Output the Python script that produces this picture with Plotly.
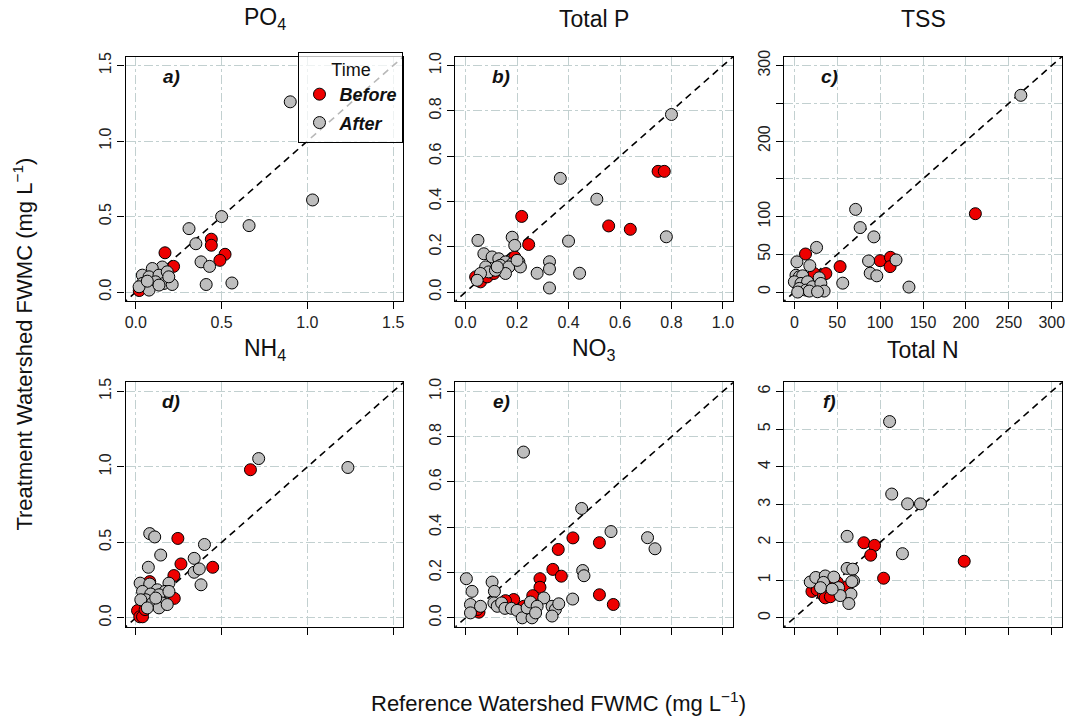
import plotly.graph_objects as go

# ---------------- data ----------------
po4_before_x = [0.17, 0.22, 0.44, 0.44, 0.52, 0.49, 0.02, 0.135]
po4_before_y = [0.26, 0.17, 0.35, 0.31, 0.25, 0.21, 0.01, 0.11]
po4_after_x = [0.90, 1.03, 0.66, 0.50, 0.31, 0.35, 0.38, 0.43, 0.41, 0.56, 0.154, 0.096, 0.038,
               0.077, 0.135, 0.183, 0.115, 0.058, 0.164, 0.212, 0.038, 0.077, 0.135, 0.019, 0.192, 0.067]
po4_after_y = [1.26, 0.61, 0.44, 0.50, 0.42, 0.32, 0.20, 0.17, 0.05, 0.06, 0.166, 0.156, 0.112,
               0.101, 0.112, 0.134, 0.068, 0.046, 0.057, 0.050, 0.057, 0.013, 0.046, 0.035, 0.101, 0.072]

tp_before_x = [0.218, 0.245, 0.556, 0.64, 0.748, 0.772, 0.191, 0.039, 0.058, 0.084, 0.11]
tp_before_y = [0.334, 0.21, 0.292, 0.277, 0.533, 0.533, 0.155, 0.067, 0.045, 0.067, 0.082]
tp_after_x = [0.80, 0.368, 0.51, 0.40, 0.78, 0.443, 0.326, 0.326, 0.326, 0.278, 0.048, 0.181, 0.191,
              0.071, 0.103, 0.129, 0.155, 0.181, 0.135, 0.168, 0.207, 0.213, 0.2, 0.078, 0.09, 0.058,
              0.155, 0.116, 0.045, 0.123]
tp_after_y = [0.784, 0.502, 0.41, 0.225, 0.244, 0.083, 0.134, 0.102, 0.018, 0.083, 0.228, 0.242, 0.206,
              0.169, 0.155, 0.147, 0.133, 0.125, 0.118, 0.111, 0.133, 0.111, 0.14, 0.111, 0.089, 0.082,
              0.082, 0.096, 0.052, 0.111]

tss_before_x = [13, 23, 36.7, 53.3, 100, 112, 111.6, 211]
tss_before_y = [50.4, 24.5, 24.5, 33.7, 41.6, 46, 33.7, 103.8]
tss_after_x = [264, 71.4, 76.7, 92.7, 25.9, 86.5, 118.5, 88.4, 96.1, 56.4, 133.6, 3, 18, 1.9, 5.8, 9.7,
               0, 7.7, 15.4, 5.8, 13.5, 21.2, 28.9, 30.9, 34.7, 17.4, 3.9, 27]
tss_after_y = [260.6, 109.5, 85.4, 73.1, 59.1, 41.2, 42.5, 25, 21.5, 11.8, 6.6, 40, 35, 22.3, 20.2, 21.5,
               13.6, 11.4, 13.6, 4.8, 2.6, 7, 18.9, 11.4, 1.3, 1.3, 0, 0.4]

nh4_before_x = [0.668, 0.245, 0.263, 0.448, 0.222, 0.224, 0.01, 0.023, 0.039, 0.081, 0.054]
nh4_before_y = [0.981, 0.526, 0.357, 0.335, 0.28, 0.129, 0.048, 0.007, 0.007, 0.24, 0.055]
nh4_after_x = [0.716, 1.236, 0.081, 0.11, 0.145, 0.073, 0.40, 0.34, 0.34, 0.37, 0.38, 0.193, 0.025, 0.081,
               0.125, 0.17, 0.039, 0.087, 0.135, 0.058, 0.097, 0.029, 0.154, 0.193, 0.135, 0.183, 0.116, 0.067]
nh4_after_y = [1.055, 0.996, 0.558, 0.536, 0.416, 0.335, 0.486, 0.394, 0.302, 0.324, 0.219, 0.23, 0.23, 0.224,
               0.186, 0.175, 0.175, 0.158, 0.153, 0.12, 0.098, 0.12, 0.098, 0.175, 0.066, 0.088, 0.131, 0.066]

no3_before_x = [0.417, 0.52, 0.36, 0.339, 0.372, 0.289, 0.289, 0.52, 0.574, 0.261, 0.187, 0.155, 0.226,
                0.052, 0.045, 0.34]
no3_before_y = [0.353, 0.332, 0.302, 0.214, 0.184, 0.173, 0.135, 0.102, 0.059, 0.098, 0.081, 0.076, 0.051,
                0.025, 0.037, 0.045]
no3_after_x = [0.225, 0.451, 0.565, 0.707, 0.736, 0.455, 0.46, 0.416, 0.304, 0.003, 0.025, 0.103, 0.112,
               0.019, 0.019, 0.058, 0.11, 0.123, 0.14, 0.153, 0.178, 0.2, 0.22, 0.258, 0.239, 0.252, 0.278,
               0.272, 0.336, 0.349, 0.362, 0.336]
no3_after_y = [0.732, 0.483, 0.381, 0.354, 0.305, 0.209, 0.186, 0.083, 0.088, 0.173, 0.117, 0.158, 0.117,
               0.059, 0.022, 0.051, 0.066, 0.051, 0.066, 0.042, 0.042, 0.033, 0.0, 0.0, 0.044, 0.07, 0.051,
               0.022, 0.051, 0.037, 0.062, 0.008]

tn_before_x = [3.96, 2.08, 1.62, 1.87, 1.78, 1.21, 0.88, 1.0, 0.41, 0.53, 0.68, 0.72, 0.84]
tn_before_y = [1.5, 1.05, 1.99, 1.92, 1.66, 0.81, 0.98, 0.94, 0.70, 0.74, 0.59, 0.53, 0.56]
tn_after_x = [2.22, 2.27, 2.64, 2.94, 2.52, 1.23, 1.23, 1.36, 1.38, 1.32, 1.27, 0.37, 0.50, 0.72, 0.92,
              0.68, 1.03, 1.34, 1.07, 0.61, 0.88]
tn_after_y = [5.2, 3.28, 3.02, 3.02, 1.7, 2.16, 1.31, 1.29, 0.98, 0.63, 0.38, 0.95, 1.07, 1.11, 1.08,
              0.94, 0.80, 0.96, 0.59, 0.80, 0.76]

panel_titles = ["PO<sub>4</sub>", "Total P", "TSS", "NH<sub>4</sub>", "NO<sub>3</sub>", "Total N"]
panel_letters = ["a)", "b)", "c)", "d)", "e)", "f)"]
axis_max = [1.5, 1.0, 300, 1.5, 1.0, 6]
x_tick_vals = [[0, 0.5, 1.0, 1.5],
               [0, 0.2, 0.4, 0.6, 0.8, 1.0],
               [0, 50, 100, 150, 200, 250, 300],
               [0, 0.5, 1.0, 1.5],
               [0, 0.2, 0.4, 0.6, 0.8, 1.0],
               [0, 1, 2, 3, 4, 5, 6]]
x_tick_text = [["0.0", "0.5", "1.0", "1.5"],
               ["0.0", "0.2", "0.4", "0.6", "0.8", "1.0"],
               ["0", "50", "100", "150", "200", "250", "300"],
               ["0.0", "0.5", "1.0", "1.5"],
               ["0.0", "0.2", "0.4", "0.6", "0.8", "1.0"],
               ["0", "1", "2", "3", "4", "5", "6"]]
# labelled y ticks; unlabelled ticks (TSS 150, 250) go in y_minor_vals
y_tick_vals = [[0, 0.5, 1.0, 1.5],
               [0, 0.2, 0.4, 0.6, 0.8, 1.0],
               [0, 50, 100, 200, 300],
               [0, 0.5, 1.0, 1.5],
               [0, 0.2, 0.4, 0.6, 0.8, 1.0],
               [0, 1, 2, 3, 4, 5, 6]]
y_tick_text = [["0.0", "0.5", "1.0", "1.5"],
               ["0.0", "0.2", "0.4", "0.6", "0.8", "1.0"],
               ["0", "50", "100", "200", "300"],
               ["0.0", "0.5", "1.0", "1.5"],
               ["0.0", "0.2", "0.4", "0.6", "0.8", "1.0"],
               ["0", "1", "2", "3", "4", "5", "6"]]
y_minor_vals = [[], [], [150, 250], [], [], []]

panels = [
    (po4_before_x, po4_before_y, po4_after_x, po4_after_y),
    (tp_before_x, tp_before_y, tp_after_x, tp_after_y),
    (tss_before_x, tss_before_y, tss_after_x, tss_after_y),
    (nh4_before_x, nh4_before_y, nh4_after_x, nh4_after_y),
    (no3_before_x, no3_before_y, no3_after_x, no3_after_y),
    (tn_before_x, tn_before_y, tn_after_x, tn_after_y),
]

# ---------------- styling ----------------
W, H = 1069, 720
FONT = "Liberation Sans, Arial, sans-serif"
RED = "#ee0000"
GRAY = "#bebebe"
GRID = "#c2d0d0"
col_px = [(125, 404), (456, 735), (786, 1065)]
row_px = [(50, 297), (379, 626)]
title_px = [12, 346]

fig = go.Figure()
layout = dict(
    width=W, height=H,
    margin=dict(l=0, r=0, t=0, b=0),
    paper_bgcolor="white", plot_bgcolor="white",
    font=dict(family=FONT, color="#222"),
    showlegend=True,
)
annotations = []

for i, (bx, by, ax_, ay) in enumerate(panels):
    r, c = divmod(i, 3)
    n = "" if i == 0 else str(i + 1)
    xa, ya = "x" + n, "y" + n
    M = axis_max[i]
    rng = [-0.04 * M, 1.04 * M]
    # 1:1 line
    fig.add_trace(go.Scatter(x=[-M, 2 * M], y=[-M, 2 * M], mode="lines",
                             line=dict(color="black", width=1.6, dash="7px,5px"),
                             showlegend=False, hoverinfo="skip", xaxis=xa, yaxis=ya))
    fig.add_trace(go.Scatter(x=bx, y=by, mode="markers", name="<b><i>Before</i></b>",
                             marker=dict(color=RED, size=12, line=dict(color="black", width=1)),
                             showlegend=(i == 0), legendgroup="b", xaxis=xa, yaxis=ya))
    fig.add_trace(go.Scatter(x=ax_, y=ay, mode="markers", name="<b><i>After</i></b>",
                             marker=dict(color=GRAY, size=12, line=dict(color="black", width=1)),
                             showlegend=(i == 0), legendgroup="a", xaxis=xa, yaxis=ya))
    x0, x1 = col_px[c]
    y0, y1 = row_px[r]
    common = dict(range=rng, showline=True, linecolor="black", linewidth=1.3, mirror=True,
                  ticks="outside", ticklen=7, tickcolor="black", tickwidth=1,
                  showgrid=True, gridcolor=GRID, griddash="dashdot", gridwidth=1,
                  zeroline=False,
                  tickfont=dict(size=16, color="#222", family=FONT))
    layout["xaxis" + n] = dict(common, domain=[x0 / W, x1 / W], anchor=ya,
                               tickvals=x_tick_vals[i], ticktext=x_tick_text[i],
                               showticklabels=(r == 0))
    yax = dict(common, domain=[1 - y1 / H, 1 - y0 / H], anchor=xa,
               tickvals=y_tick_vals[i], ticktext=y_tick_text[i], tickangle=-90)
    if y_minor_vals[i]:
        yax["minor"] = dict(tickvals=y_minor_vals[i], ticks="outside", ticklen=7, tickcolor="black",
                            showgrid=True, gridcolor=GRID, griddash="dashdot", gridwidth=1)
    layout["yaxis" + n] = yax
    # panel title
    annotations.append(dict(text=panel_titles[i], x=(x0 + x1) / 2 / W, y=1 - title_px[r] / H,
                            xref="paper", yref="paper", showarrow=False,
                            font=dict(size=23, color="#111", family=FONT),
                            xanchor="center", yanchor="middle"))
    # panel letter
    annotations.append(dict(text="<b><i>" + panel_letters[i] + "</i></b>", x=0.165, y=0.92,
                            xref=xa + " domain", yref=ya + " domain", showarrow=False,
                            font=dict(size=19, color="#111", family=FONT),
                            xanchor="center", yanchor="middle"))

annotations.append(dict(text="Treatment Watershed FWMC (mg L<sup>\u22121</sup>)", x=22 / W, y=1 - 340 / H,
                        xref="paper", yref="paper", showarrow=False, textangle=-90,
                        font=dict(size=22, color="#111", family=FONT), xanchor="center", yanchor="middle"))
annotations.append(dict(text="Reference Watershed FWMC (mg L<sup>\u22121</sup>)", x=560 / W, y=1 - 702 / H,
                        xref="paper", yref="paper", showarrow=False,
                        font=dict(size=22, color="#111", family=FONT), xanchor="center", yanchor="middle"))

layout["annotations"] = annotations
layout["legend"] = dict(x=404 / W, y=1 - 45 / H, xanchor="right", yanchor="top",
                        bgcolor="rgba(255,255,255,0.72)", bordercolor="black", borderwidth=1,
                        font=dict(size=18, color="#111", family=FONT),
                        title=dict(text="Time", side="top center", font=dict(size=18, color="#111", family=FONT)),
                        itemwidth=30, tracegroupgap=2)
fig.update_layout(**layout)
fig.write_html("out.html", config={"displayModeBar": False},
               post_script="document.body.style.margin='0';document.body.style.padding='0';")
